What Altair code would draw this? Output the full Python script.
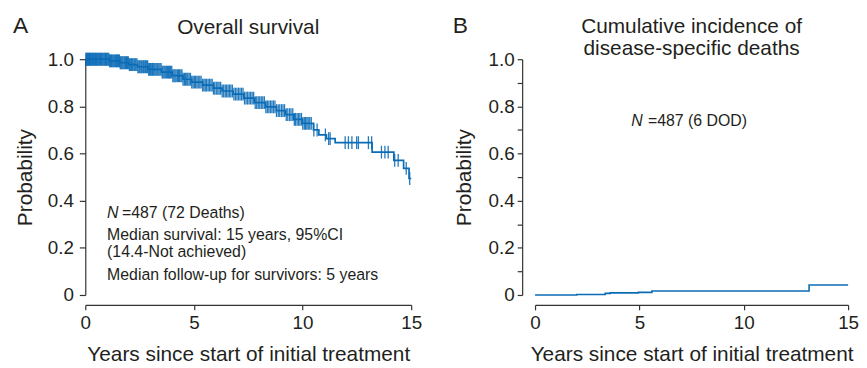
import altair as alt
import pandas as pd

BLUE = "#0b6cb6"
AXC = "#333333"
TXT = "#231f20"
FONT = "Liberation Sans"

# ---- Panel A: overall survival (Kaplan-Meier) ----
os_time = [0, 1.1, 1.6, 2.0, 2.4, 2.9, 3.5, 4.0, 4.5, 4.9, 5.4, 5.9, 6.3, 6.8, 7.3,
           7.8, 8.3, 8.8, 9.2, 9.6, 10.0, 10.5, 10.75, 11.1, 11.5, 13.2, 14.2, 14.65, 14.9, 15.0]
os_surv = [1.0, 0.993, 0.985, 0.977, 0.968, 0.957, 0.945, 0.93, 0.915, 0.903, 0.89, 0.877, 0.865, 0.852, 0.835,
           0.816, 0.798, 0.782, 0.765, 0.745, 0.728, 0.70, 0.679, 0.663, 0.646, 0.606, 0.571, 0.537, 0.494, 0.494]

censor_time = [0.03, 0.08, 0.14, 0.2, 0.26, 0.33, 0.4, 0.47, 0.55, 0.62, 0.7, 0.78, 0.86, 0.93, 1.0,
               1.08, 1.16, 1.24, 1.32, 1.4, 1.48, 1.57, 1.65, 1.73, 1.82, 1.9, 1.98, 2.07, 2.16, 2.25,
               2.33, 2.42, 2.51, 2.6, 2.69, 2.78, 2.87, 2.96, 3.06, 3.15, 3.25, 3.34, 3.44, 3.54, 3.63,
               3.73, 3.83, 3.93, 4.03, 4.13, 4.24, 4.34, 4.45, 4.56, 4.67, 4.78, 4.9, 5.02, 5.14, 5.27,
               5.4, 5.52, 5.65, 5.78, 5.9, 6.03, 6.16, 6.3, 6.44, 6.57, 6.7, 6.84, 6.98, 7.12, 7.26,
               7.4, 7.54, 7.68, 7.82, 7.96, 8.1, 8.24, 8.38, 8.52, 8.66, 8.8, 8.95, 9.1, 9.25, 9.4,
               9.55, 9.68, 9.82, 9.95, 10.08, 10.2, 10.33, 10.52, 10.67, 11.05, 11.2, 11.27, 11.96, 12.11, 12.27,
               12.49, 12.57, 13.03, 13.18, 13.63, 13.79, 13.94, 14.24, 14.4, 14.77, 14.93]
censor_time_more = [0.05, 0.11, 0.17, 0.23, 0.3, 0.37, 0.44, 0.51, 0.58, 0.66, 0.74, 0.82, 0.9, 0.97, 1.04,
                    1.12, 1.2, 1.28, 1.36, 1.44, 1.53, 1.61, 1.69, 1.78, 1.86, 1.94, 2.03, 2.12, 2.2, 2.29,
                    2.38, 2.47, 2.56, 2.65, 2.74, 2.83, 2.92, 3.01, 3.1, 3.2, 3.3, 3.39, 3.49, 3.58, 3.68,
                    3.78, 3.88, 3.98, 4.08, 4.18, 4.29, 4.4, 4.5, 4.61, 4.72, 4.84, 4.96, 5.08, 5.2, 5.33,
                    5.46, 5.58, 5.71, 5.84, 5.96, 6.1, 6.23, 6.37, 6.5, 6.63, 6.77, 6.91, 7.05, 7.19, 7.33,
                    7.47, 7.61, 7.75, 7.89, 8.03, 8.17, 8.31, 8.45, 8.59, 8.73, 8.88, 9.03, 9.17, 9.32, 9.47,
                    9.62, 9.75, 9.88, 10.01, 10.14, 10.26, 10.4]

# ---- Panel B: cumulative incidence of disease-specific deaths ----
ci_time = [0, 2.0, 3.36, 3.6, 4.95, 5.6, 13.13, 15.0]
ci_val = [0, 0.002, 0.007, 0.009, 0.011, 0.017, 0.042, 0.042]

x_ticks = [0, 5, 10, 15]
y_ticks = [0, 0.1, 0.2, 0.3, 0.4, 0.5, 0.6, 0.7, 0.8, 0.9, 1.0]


def surv_at(t):
    s = os_surv[0]
    for tt, ss in zip(os_time, os_surv):
        if tt <= t:
            s = ss
    return s


all_cens = censor_time + censor_time_more
km = pd.DataFrame({"t": os_time, "s": os_surv})
cens = pd.DataFrame({"t": all_cens, "s": [surv_at(t) for t in all_cens]})
ci = pd.DataFrame({"t": ci_time, "s": ci_val})

ylabel = "datum.value == 0 ? '0' : (round(datum.value * 10) % 2 == 0 ? format(datum.value, '.1f') : '')"


def x_enc():
    return alt.X("t:Q", scale=alt.Scale(domain=[0, 15], nice=False, zero=False),
                 axis=alt.Axis(values=x_ticks, title="Years since start of initial treatment",
                               offset=10, tickSize=5, labelPadding=4, titlePadding=11,
                               labelFlush=False, grid=False, format="d"))


def y_enc(offset, tick, pad, tpad):
    return alt.Y("s:Q", scale=alt.Scale(domain=[0, 1], nice=False),
                 axis=alt.Axis(values=y_ticks, labelExpr=ylabel, title="Probability",
                               offset=offset, tickSize=tick, labelPadding=pad,
                               titlePadding=tpad, labelFlush=False, grid=False))


def txt(text, x, y, size=16, style="normal", align="left", baseline="alphabetic"):
    return alt.Chart(pd.DataFrame({"a": [0]})).mark_text(
        text=text, fontSize=size, fontStyle=style, align=align, baseline=baseline,
        font=FONT, color=TXT
    ).encode(x=alt.value(x), y=alt.value(y))


WA, WB, H = 329, 316, 238

lineA = alt.Chart(km).mark_line(interpolate="step-after", color=BLUE, strokeWidth=1.7).encode(
    x=x_enc(), y=y_enc(0, 6, 6, 12))
ticksA = alt.Chart(cens).mark_tick(orient="vertical", size=13, thickness=1.3, color=BLUE, opacity=0.9).encode(
    x="t:Q", y="s:Q")

panelA = alt.layer(
    lineA, ticksA,
    txt("A", -73, -26, size=23),
    txt("Overall survival", WA / 2, -25, size=21, align="center"),
    txt("N", 22, 160, style="italic"),
    txt("=487 (72 Deaths)", 37, 160),
    txt("Median survival: 15 years, 95%CI", 22, 182),
    txt("(14.4-Not achieved)", 22, 200),
    txt("Median follow-up for survivors: 5 years", 22, 223),
).properties(width=WA, height=H)

lineB = alt.Chart(ci).mark_line(interpolate="step-after", color=BLUE, strokeWidth=1.6).encode(
    x=x_enc(), y=y_enc(13, 5, 3, 14))

panelB = alt.layer(
    lineB,
    txt("B", -83, -26, size=23),
    txt("Cumulative incidence of", WB / 2, -26, size=21, align="center"),
    txt("disease-specific deaths", WB / 2, -4, size=21, align="center"),
    txt("N", 97, 67, style="italic"),
    txt("=487 (6 DOD)", 114, 67),
).properties(width=WB, height=H)

chart = alt.hconcat(panelA, panelB, spacing=31).properties(
    padding={"left": 5, "top": 6, "right": 0, "bottom": 0}
).configure(background="white").configure_view(stroke=None).configure_axis(
    domainColor=AXC, tickColor=AXC, labelColor=TXT, titleColor=TXT,
    labelFont=FONT, titleFont=FONT, labelFontSize=19, titleFontSize=21,
    titleFontWeight="normal", domainWidth=1.2, tickWidth=1.2
)

chart.save("out.html", embed_options={"renderer": "svg", "actions": False})
